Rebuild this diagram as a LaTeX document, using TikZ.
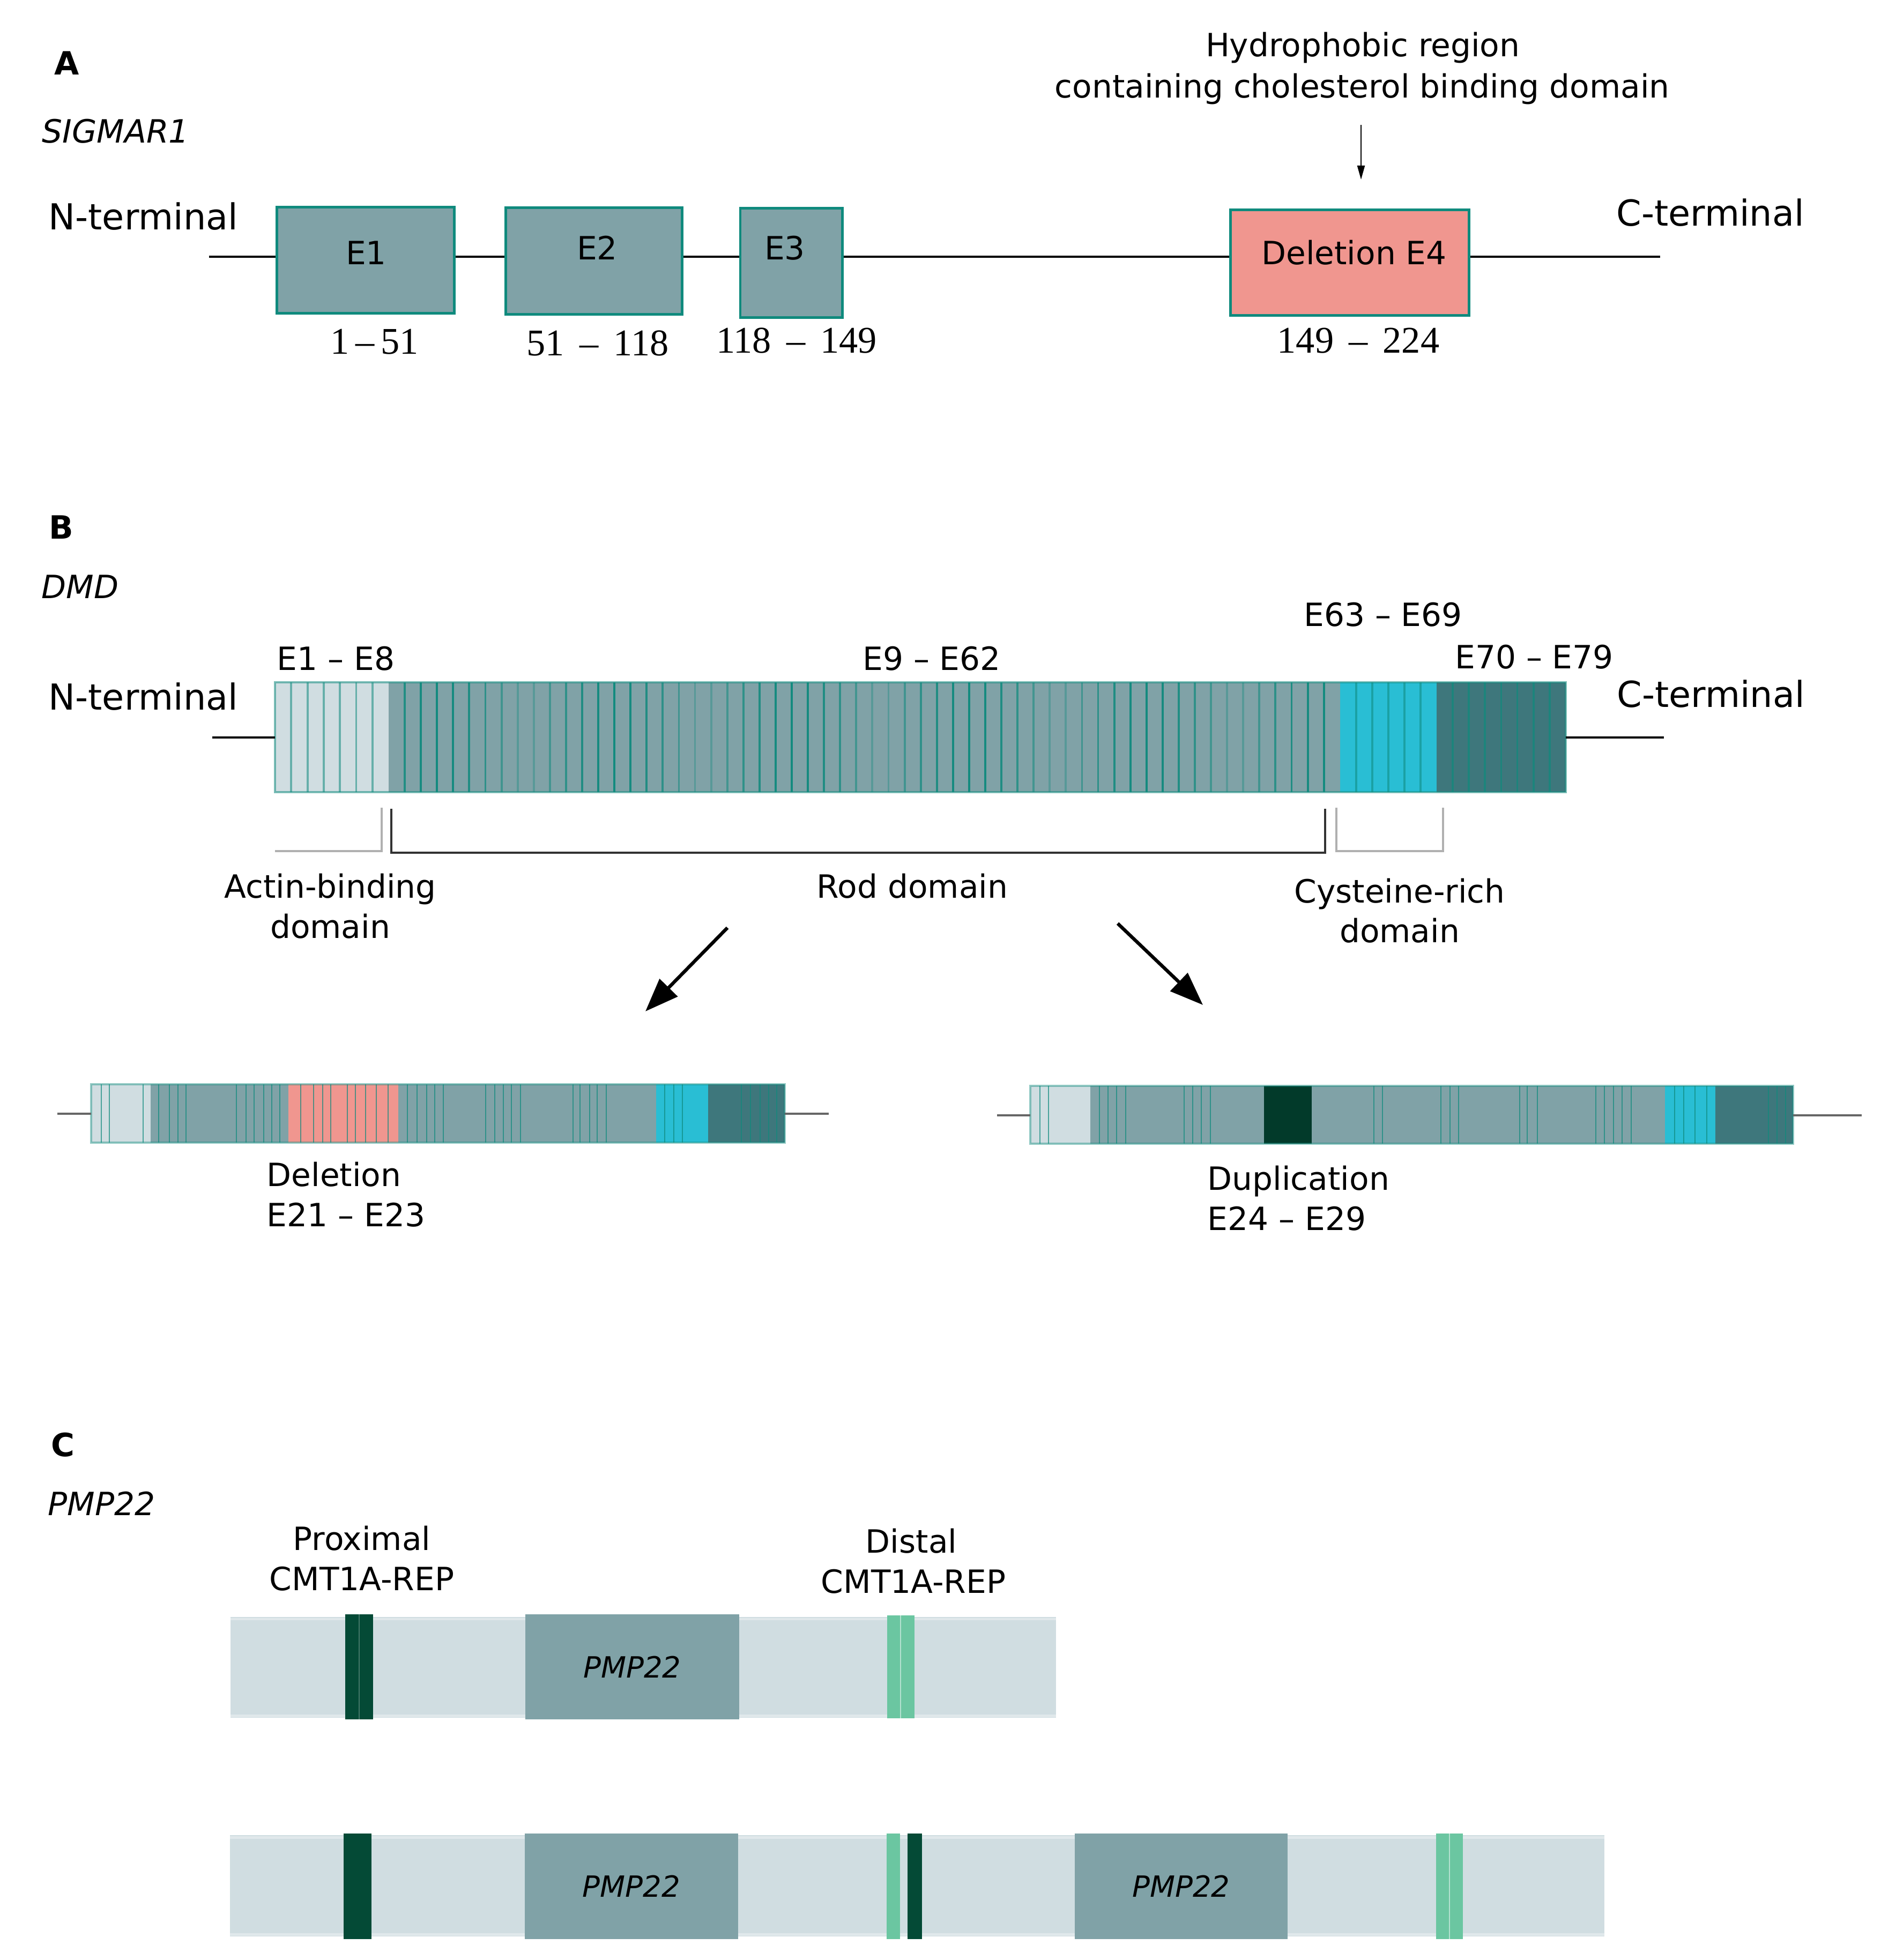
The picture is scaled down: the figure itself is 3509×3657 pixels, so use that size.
\documentclass[tikz,border=0pt]{standalone}
\usepackage{fontspec}
\setmainfont{DejaVu Sans}
\newfontfamily\numfont{Liberation Serif}
\usetikzlibrary{arrows.meta}
\newcommand\fsN{\fontsize{19}{22}\selectfont}
\newcommand\fsT{\fontsize{17}{20}\selectfont}
\newcommand\fsP{\fontsize{15.5}{18}\selectfont}
\newcommand\fsR{\numfont\fontsize{20}{24}\selectfont}
\newcommand\ndash{\hspace{0.4em}–\hspace{0.4em}}
\definecolor{exgrey}{HTML}{80A2A7}
\definecolor{exlight}{HTML}{D0DDE1}
\definecolor{exteal}{HTML}{0F8A7D}
\definecolor{exsalmon}{HTML}{F0968F}
\definecolor{excyan}{HTML}{29BED4}
\definecolor{exdark}{HTML}{3E777C}
\definecolor{dkgreen}{HTML}{044A36}
\definecolor{dupgreen}{HTML}{023A2A}
\definecolor{mint}{HTML}{6BC6A1}
\definecolor{bracketgrey}{HTML}{B0B0B0}
\begin{document}
\begin{tikzpicture}[x=0.01cm,y=-0.01cm,
  txt/.style={font=\fsT, inner sep=0pt, anchor=base},
  txtl/.style={font=\fsT, inner sep=0pt, anchor=base west},
  term/.style={font=\fsN, inner sep=0pt, anchor=base west},
  num/.style={font=\fsR, inner sep=0pt, anchor=base},
  panel/.style={font=\fsT\bfseries, inner sep=0pt, anchor=base},
  gene/.style={font=\fsT\itshape, inner sep=0pt, anchor=base west},
  exbox/.style={draw=exteal, line width=1.4pt, fill=exgrey, inner sep=0pt},
  pmpbox/.style={fill=exgrey, inner sep=0pt, font=\fsP\itshape},
  backbone/.style={line width=1.2pt, black},
  stripe/.style={exteal, line width=1.1pt},
  thinconn/.style={line width=1.4pt, black!60},
  bigarrow/.style={line width=1.8pt, -{Triangle[length=0.62cm, width=0.46cm]}},
  smallarrow/.style={line width=0.6pt, -{Triangle[length=0.26cm, width=0.14cm]}}
]
\useasboundingbox (0,0) rectangle (3509,3657);
\fill[white] (0,0) rectangle (3509,3657);

% ================= Panel A =================
\node[panel] (pA) at (125,139) {A};
\node[gene] (gA) at (78,266) {SIGMAR1};
\node[term] (nA) at (90,428) {N-terminal};
\node[term] (cA) at (3015,421) {C-terminal};

\coordinate (aN) at (390,479);
\coordinate (aC) at (3097,479);
\node[exbox, minimum width=3.30cm, minimum height=1.97cm] (e1) at (682,485.5) {};
\node[exbox, minimum width=3.28cm, minimum height=1.98cm] (e2) at (1108,487) {};
\node[exbox, minimum width=1.90cm, minimum height=2.03cm] (e3) at (1476,490.5) {};
\node[exbox, fill=exsalmon, minimum width=4.44cm, minimum height=1.96cm] (e4) at (2518,490) {};
\draw[backbone] (aN) -- (aN -| e1.west);
\draw[backbone] (e1.east |- aN) -- (e2.west |- aN);
\draw[backbone] (e2.east |- aN) -- (e3.west |- aN);
\draw[backbone] (e3.east |- aN) -- (e4.west |- aN);
\draw[backbone] (e4.east |- aN) -- (aC);

\node[txt] (e1t) at (683,493) {E1};
\node[txt] (e2t) at (1114,484) {E2};
\node[txt] (e3t) at (1464,484) {E3};
\node[txt] (e4t) at (2526,493) {Deletion E4};

\node[num] (n1) at (699,660) {1\,–\,51};
\node[num] (n2) at (1115,663) {51\ndash118};
\node[num] (n3) at (1486,658) {118\ndash149};
\node[num] (n4) at (2534,658) {149\ndash224};

\node[txt] (hyd1) at (2542,105) {Hydrophobic region};
\node[txt] (hyd2) at (2541,182) {containing cholesterol binding domain};
\coordinate (hydS) at (2539,233);
\coordinate (hydE) at (2539,335);
\draw[smallarrow] (hydS) -- (hydE);

% ================= Panel B =================
\node[panel] (pB) at (114,1005) {B};
\node[gene] (gB) at (77,1116) {DMD};
\node[term] (nB) at (90,1324) {N-terminal};
\node[term] (cB) at (3016,1319) {C-terminal};

\node[txtl] (l18) at (516,1250) {E1 – E8};
\node[txt] (l962) at (1738,1250) {E9 – E62};
\node[txt] (l6369) at (2580,1168) {E63 – E69};
\node[txt] (l7079) at (2862,1247) {E70 – E79};

\fill[exlight] (513,1273) rectangle (725,1478);
\fill[exgrey] (725,1273) rectangle (2500,1478);
\fill[excyan] (2500,1273) rectangle (2680,1478);
\fill[exdark] (2680,1273) rectangle (2921,1478);
\foreach \i in {1,...,6} {\draw[stripe, opacity=0.55] ({513+30.3*\i},1273) -- ++(0,205);}
\foreach \i in {1,...,58} {
  \pgfmathsetmacro\op{0.25+0.7*abs(sin(\i*16.4+40))}
  \draw[stripe, opacity=\op] ({725+30.08*\i},1273) -- ++(0,205);}
\foreach \i in {1,...,5} {\draw[stripe, opacity=0.55] ({2500+30*\i},1273) -- ++(0,205);}
\foreach \i in {1,...,7} {\draw[stripe, opacity=0.7] ({2680+30.1*\i},1273) -- ++(0,205);}
\draw[exteal, opacity=0.55, line width=1.2pt] (513,1273) rectangle (2921,1478);
\coordinate (dmdL) at (513,1376);
\coordinate (dmdR) at (2921,1376);
\coordinate (dmdNe) at (396,1376);
\coordinate (dmdCe) at (3104,1376);
\draw[backbone] (dmdNe) -- (dmdL);
\draw[backbone] (dmdR) -- (dmdCe);

% brackets
\coordinate (abL) at (513,1588);
\coordinate (abR) at (712,1588);
\coordinate (abT) at (712,1507);
\draw[bracketgrey, line width=0.9pt] (abL) -- (abR) -- (abT);
\coordinate (rdLT) at (730,1509);
\coordinate (rdLB) at (730,1591);
\coordinate (rdRB) at (2472,1591);
\coordinate (rdRT) at (2472,1509);
\draw[black!80, line width=0.9pt] (rdLT) -- (rdLB) -- (rdRB) -- (rdRT);
\coordinate (cyLT) at (2493,1507);
\coordinate (cyLB) at (2493,1588);
\coordinate (cyRB) at (2692,1588);
\coordinate (cyRT) at (2692,1507);
\draw[bracketgrey, line width=0.9pt] (cyLT) -- (cyLB) -- (cyRB) -- (cyRT);

\node[txt] (ab1) at (616,1675) {Actin-binding};
\node[txt] (ab2) at (616,1750) {domain};
\node[txt] (rod) at (1702,1675) {Rod domain};
\node[txt] (cy1) at (2611,1684) {Cysteine-rich};
\node[txt] (cy2) at (2611,1758) {domain};

\coordinate (la1) at (1357,1731);
\coordinate (la2) at (1204,1887);
\coordinate (ra1) at (2085,1723);
\coordinate (ra2) at (2244,1875);
\draw[bigarrow] (la1) -- (la2);
\draw[bigarrow] (ra1) -- (ra2);

% deletion bar
\fill[exlight] (170,2023) rectangle (281,2132);
\fill[exgrey] (281,2023) rectangle (538,2132);
\fill[exsalmon] (538,2023) rectangle (743,2132);
\fill[exgrey] (743,2023) rectangle (1224,2132);
\fill[excyan] (1224,2023) rectangle (1321,2132);
\fill[exdark] (1321,2023) rectangle (1464,2132);
\foreach \x in {189,204,267,296,316,332,347,441,459,474,492,507,522,561,585,602,617,648,663,682,702,724,760,778,796,811,827,906,923,939,954,971,1069,1082,1100,1114,1131,1240,1257,1273,1383,1400,1418,1434,1449}
  {\draw[stripe, line width=0.8pt, opacity=0.7] (\x,2023) -- (\x,2132);}
\draw[exteal, opacity=0.45, line width=1.2pt] (170,2023) rectangle (1464,2132);
\coordinate (delL) at (170,2078);
\coordinate (delR) at (1464,2078);
\coordinate (delLe) at (107,2078);
\coordinate (delRe) at (1546,2078);
\draw[thinconn] (delLe) -- (delL);
\draw[thinconn] (delR) -- (delRe);
\node[txtl] (del1) at (497,2213) {Deletion};
\node[txtl] (del2) at (497,2288) {E21 – E23};

% duplication bar
\fill[exlight] (1922,2026) rectangle (2034,2134);
\fill[exgrey] (2034,2026) rectangle (2358,2134);
\fill[dupgreen] (2358,2026) rectangle (2447,2134);
\fill[exgrey] (2447,2026) rectangle (3106,2134);
\fill[excyan] (3106,2026) rectangle (3200,2134);
\fill[exdark] (3200,2026) rectangle (3345,2134);
\foreach \x in {1940,1956,2051,2067,2083,2100,2209,2225,2241,2258,2563,2579,2688,2705,2721,2835,2849,2868,2977,2993,3010,3026,3043,3124,3141,3162,3184,3299,3315,3331}
  {\draw[stripe, line width=0.8pt, opacity=0.7] (\x,2026) -- (\x,2134);}
\draw[exteal, opacity=0.45, line width=1.2pt] (1922,2026) rectangle (3345,2134);
\coordinate (dupL) at (1922,2081);
\coordinate (dupR) at (3345,2081);
\coordinate (dupLe) at (1860,2081);
\coordinate (dupRe) at (3473,2081);
\draw[thinconn] (dupLe) -- (dupL);
\draw[thinconn] (dupR) -- (dupRe);
\node[txtl] (dup1) at (2252,2220) {Duplication};
\node[txtl] (dup2) at (2252,2295) {E24 – E29};

% ================= Panel C =================
\node[panel] (pC) at (117,2717) {C};
\node[gene] (gC) at (89,2827) {PMP22};
\node[txt] (px1) at (675,2892) {Proximal};
\node[txt] (px2) at (675,2967) {CMT1A-REP};
\node[txt] (ds1) at (1700,2897) {Distal};
\node[txt] (ds2) at (1704,2972) {CMT1A-REP};

% top bar
\fill[exlight] (430,3017) rectangle (1970,3205);
\draw[white, opacity=0.35, line width=1.4pt] (430,3021) -- (1970,3021) (430,3201) -- (1970,3201);
\fill[dkgreen] (644,3012) rectangle (696,3208);
\draw[dkgreen!75!white, line width=0.4pt] (670,3012) -- (670,3208);
\node[pmpbox, minimum width=3.99cm, minimum height=1.96cm] (p1) at (1179.5,3110) {PMP22};
\fill[mint] (1655,3014) rectangle (1706,3206);
\draw[mint!50!white, line width=0.6pt] (1680,3014) -- (1680,3206);

% bottom bar
\fill[exlight] (429,3424) rectangle (2993,3613);
\draw[white, opacity=0.35, line width=1.4pt] (429,3428) -- (2993,3428) (429,3609) -- (2993,3609);
\fill[dkgreen] (641,3421) rectangle (693,3618);
\node[pmpbox, minimum width=3.98cm, minimum height=1.97cm] (p2) at (1178,3519.5) {PMP22};
\fill[mint] (1654,3421) rectangle (1679,3618);
\fill[dkgreen] (1693,3421) rectangle (1720,3618);
\node[pmpbox, minimum width=3.97cm, minimum height=1.97cm] (p3) at (2203.5,3519.5) {PMP22};
\fill[mint] (2679,3421) rectangle (2729,3618);
\draw[mint!50!white, line width=0.6pt] (2704,3421) -- (2704,3618);
\end{tikzpicture}
\end{document}
